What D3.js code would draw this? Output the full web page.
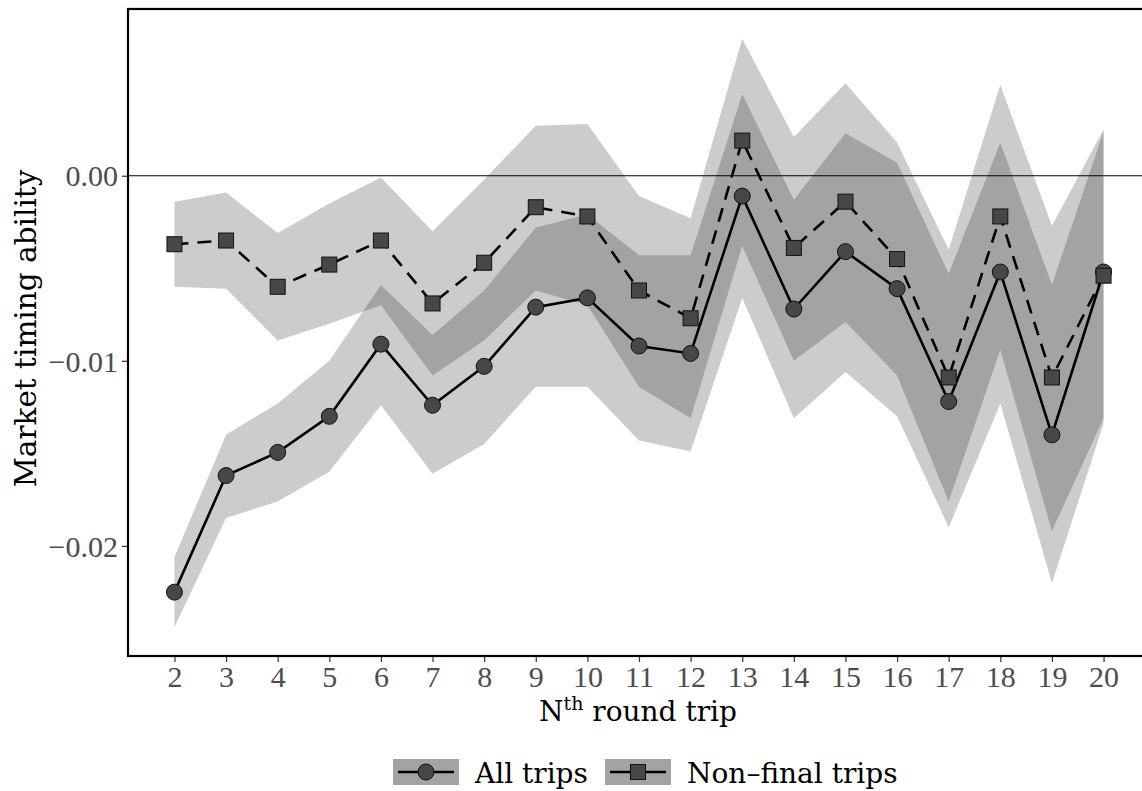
<!DOCTYPE html>
<html>
<head>
<meta charset="utf-8">
<script src="https://cdn.jsdelivr.net/npm/d3@7"></script>
<style>
  body { margin: 0; background: #fff; }
  svg { display: block; }
</style>
</head>
<body>
<div id="chart"></div>
<script>
let svgWidth = 1142;
let svgHeight = 791;

// panel edges (the right edge runs off the page like the original)
let panel = { left: 128, right: 1150, top: 9, bottom: 656 };

// Nth round trip
let trips = [2, 3, 4, 5, 6, 7, 8, 9, 10, 11, 12, 13, 14, 15, 16, 17, 18, 19, 20];

// all trips
let allMean = [-0.0225, -0.0162, -0.01495, -0.0130, -0.0091, -0.0124, -0.0103, -0.0071, -0.0066, -0.0092, -0.0096, -0.0011, -0.0072, -0.0041, -0.0061, -0.0122, -0.0052, -0.0140, -0.0052];
let allLow  = [-0.0244, -0.0185, -0.0176, -0.0160, -0.0124, -0.0161, -0.0145, -0.0114, -0.0114, -0.0143, -0.0149, -0.0066, -0.0131, -0.0106, -0.0130, -0.0190, -0.0123, -0.0220, -0.0134];
let allHigh = [-0.0206, -0.0140, -0.0123, -0.0100, -0.0059, -0.0086, -0.0062, -0.0028, -0.0021, -0.0043, -0.0043, 0.0044, -0.0013, 0.0023, 0.0007, -0.0053, 0.0018, -0.0059, 0.0024];

// non-final trips
let nfMean = [-0.0037, -0.0035, -0.0060, -0.0048, -0.0035, -0.0069, -0.0047, -0.0017, -0.0022, -0.0062, -0.0077, 0.0019, -0.0039, -0.0014, -0.0045, -0.0109, -0.0022, -0.0109, -0.0054];
let nfLow  = [-0.0060, -0.0061, -0.0089, -0.0080, -0.0070, -0.0108, -0.0089, -0.0062, -0.0070, -0.0114, -0.0131, -0.0038, -0.0100, -0.0079, -0.0108, -0.0176, -0.0094, -0.0192, -0.0131];
let nfHigh = [-0.0014, -0.0009, -0.0031, -0.0015, -0.0001, -0.0030, -0.0002, 0.0027, 0.0028, -0.0011, -0.0023, 0.0074, 0.0021, 0.0050, 0.0018, -0.0040, 0.0049, -0.0027, 0.0025];

let yTicks = [-0.02, -0.01, 0.00];
let legendLabels = ["All trips", "Non\u2013final trips"];

let titleFont = "DejaVu Serif";
let tickFont = "Liberation Serif";

let svg = d3
  .select("#chart")
  .append("svg")
  .attr("width", svgWidth)
  .attr("height", svgHeight);

let xScale = d3.scaleLinear()
  .domain([1.1, 20.9])
  .range([panel.left, panel.right]);

let yScale = d3.scaleLinear()
  .domain([-0.02595, 0.00901])
  .range([panel.bottom, panel.top]);

let allData = trips.map((t, i) => ({ trip: t, mean: allMean[i], low: allLow[i], high: allHigh[i] }));
let nfData = trips.map((t, i) => ({ trip: t, mean: nfMean[i], low: nfLow[i], high: nfHigh[i] }));

let area = d3.area()
  .x(d => xScale(d.trip))
  .y0(d => yScale(d.low))
  .y1(d => yScale(d.high));

let line = d3.line()
  .x(d => xScale(d.trip))
  .y(d => yScale(d.mean));

// ribbons, black at 20% so the overlap turns darker
[allData, nfData].forEach(data => {
  svg.append("path")
    .datum(data)
    .attr("d", area)
    .attr("fill", "#000")
    .attr("fill-opacity", 0.2);
});

// zero line
svg.append("line")
  .attr("x1", panel.left)
  .attr("x2", panel.right)
  .attr("y1", yScale(0))
  .attr("y2", yScale(0))
  .attr("stroke", "#000")
  .attr("stroke-width", 1.2);

svg.append("path")
  .datum(allData)
  .attr("d", line)
  .attr("fill", "none")
  .attr("stroke", "#000")
  .attr("stroke-width", 2.6);

svg.append("path")
  .datum(nfData)
  .attr("d", line)
  .attr("fill", "none")
  .attr("stroke", "#000")
  .attr("stroke-width", 2.6)
  .attr("stroke-dasharray", "14,9");

let markerFill = "#474747";

svg.append("g")
  .selectAll("circle")
  .data(allData)
  .enter()
  .append("circle")
  .attr("cx", d => xScale(d.trip))
  .attr("cy", d => yScale(d.mean))
  .attr("r", 8)
  .attr("fill", markerFill)
  .attr("stroke", "#111")
  .attr("stroke-width", 1);

svg.append("g")
  .selectAll("rect")
  .data(nfData)
  .enter()
  .append("rect")
  .attr("x", d => xScale(d.trip) - 7.5)
  .attr("y", d => yScale(d.mean) - 7.5)
  .attr("width", 15)
  .attr("height", 15)
  .attr("fill", markerFill)
  .attr("stroke", "#111")
  .attr("stroke-width", 1);

// panel frame: left, top, bottom (right side falls off the page)
svg.append("rect")
  .attr("x", panel.left)
  .attr("y", panel.top)
  .attr("width", panel.right - panel.left)
  .attr("height", panel.bottom - panel.top)
  .attr("fill", "none")
  .attr("stroke", "#000")
  .attr("stroke-width", 2.2);

// axes
let bottomAxis = d3.axisBottom(xScale)
  .tickValues(trips)
  .tickSize(5)
  .tickSizeOuter(0)
  .tickPadding(3);

let leftAxis = d3.axisLeft(yScale)
  .tickValues(yTicks)
  .tickFormat(d3.format(".2f"))
  .tickSize(5)
  .tickSizeOuter(0)
  .tickPadding(4);

let xAxis = svg.append("g")
  .attr("transform", `translate(0, ${panel.bottom + 1})`)
  .call(bottomAxis);

let yAxis = svg.append("g")
  .attr("transform", `translate(${panel.left - 1}, 0)`)
  .call(leftAxis);

[xAxis, yAxis].forEach(ax => {
  ax.select(".domain").remove();
  ax.selectAll(".tick line").attr("stroke", "#333").attr("stroke-width", 1.2);
  ax.selectAll(".tick text")
    .attr("fill", "#4d4d4d")
    .style("font-family", tickFont)
    .style("font-size", "30px");
});

xAxis.selectAll(".tick text").attr("dy", "0.74em");
yAxis.selectAll(".tick text").attr("dy", "0.34em");

// axis titles
let xTitle = svg.append("text")
  .attr("x", (panel.left + panel.right) / 2 - 1)
  .attr("y", 721)
  .attr("text-anchor", "middle")
  .style("font-family", titleFont)
  .style("font-size", "28px")
  .attr("fill", "#000");
xTitle.append("tspan").text("N");
xTitle.append("tspan")
  .attr("dy", -11)
  .style("font-size", "19px")
  .text("th");
xTitle.append("tspan")
  .attr("dy", 11)
  .text(" round trip");

svg.append("text")
  .attr("transform", `translate(36, ${(panel.top + panel.bottom) / 2 - 4}) rotate(-90)`)
  .attr("text-anchor", "middle")
  .style("font-family", titleFont)
  .style("font-size", "29.5px")
  .attr("fill", "#000")
  .text("Market timing ability");

// legend
let legendX = [393, 605];
let legend = svg.append("g");

legendLabels.forEach((label, i) => {
  let g = legend.append("g")
    .attr("transform", `translate(${legendX[i]}, 759)`);

  g.append("rect")
    .attr("width", 66)
    .attr("height", 26)
    .attr("fill", "#a3a3a3");

  g.append("line")
    .attr("x1", 5)
    .attr("x2", 61)
    .attr("y1", 13)
    .attr("y2", 13)
    .attr("stroke", "#000")
    .attr("stroke-width", 2.6);

  if (i === 0) {
    g.append("circle")
      .attr("cx", 33)
      .attr("cy", 13)
      .attr("r", 8)
      .attr("fill", markerFill)
      .attr("stroke", "#111");
  } else {
    g.append("rect")
      .attr("x", 25.5)
      .attr("y", 5.5)
      .attr("width", 15)
      .attr("height", 15)
      .attr("fill", markerFill)
      .attr("stroke", "#111");
  }

  g.append("text")
    .attr("x", 82)
    .attr("y", 24)
    .style("font-family", titleFont)
    .style("font-size", "28px")
    .attr("fill", "#000")
    .text(label);
});
</script>
</body>
</html>
